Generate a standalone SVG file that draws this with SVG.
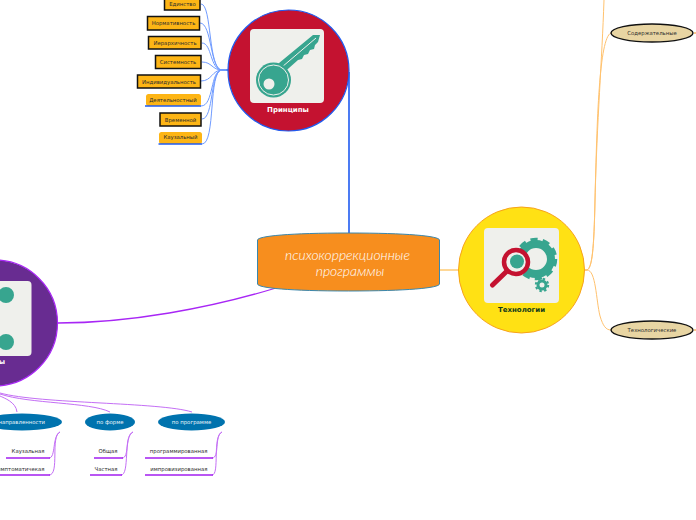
<svg xmlns="http://www.w3.org/2000/svg" width="696" height="520" viewBox="0 0 696 520">
<style>
text{font-family:"DejaVu Sans",sans-serif;font-size:5.35px;fill:#2e2e2e;text-anchor:middle}
.end{text-anchor:end}
.head{font-size:7px;font-weight:bold}
.title{font-family:"Lato",sans-serif;font-size:13.9px;font-style:italic;font-weight:300;fill:#fff}
.b{fill:none;stroke:#6f9bff;stroke-width:1}
.o{fill:none;stroke:#ffc26e;stroke-width:1}
.p{fill:none;stroke:#c46ff5;stroke-width:1}
.pu{fill:none;stroke:#a21ff0;stroke-width:1.3}
.ub{fill:none;stroke:#1f5bf0;stroke-width:1.4}
.box{fill:#fdb515;stroke:#111;stroke-width:1.5}
.soft{fill:#fdb515}
.el{fill:#0073ae}
.lt{fill:#e8f4fa}
.sand{fill:#e8d5a3;stroke:#111;stroke-width:1.4}
.card{fill:#eff0ec}
.teal{fill:#37a58f}
</style>
<rect width="696" height="520" fill="#fff"/>
<g id="connectors">
<path d="M349 72V234" fill="none" stroke="#1f5bf0" stroke-width="1.6"/>
<path d="M58 323C130 323 210 308 276 288" fill="none" stroke="#a826f5" stroke-width="1.3"/>
<path d="M440 270H459" fill="none" stroke="#fdb02e" stroke-width="1"/>
<path d="M222 70H228" fill="none" stroke="#1f5bf0" stroke-width="1.4"/>
<path class="b" d="M226 70H222C208 70 212 4 201 4"/>
<path class="b" d="M226 70H222C210 70 212 23 200 23"/>
<path class="b" d="M226 70H222C210 70 212 43 202 43"/>
<path class="b" d="M226 70H222C212 70 212 62 202 62"/>
<path class="b" d="M226 70H222C212 70 212 81 201 81"/>
<path class="b" d="M226 70H222C210 70 214 106 201 106"/>
<path class="b" d="M226 70H222C210 70 214 119 202 119"/>
<path class="b" d="M226 70H222C208 70 216 144 202 144"/>
<path class="o" d="M585 270H587C592 268 594 250 595 200C597 120 602 60 604 0"/>
<path class="o" d="M585 270H587C592 268 594 250 595 200C597 120 599 38 611 33"/>
<path class="o" d="M585 270H587C596 270 596 300 600 316C603 326 606 330 611 330"/>
<path class="p" d="M0 396C4 398 16 402 17 412"/>
<path class="p" d="M0 394C30 404 90 402 110 412"/>
<path class="p" d="M0 393C40 404 160 402 192 412"/>
<path class="p" d="M60 432C52 436 56 458 49 458"/>
<path class="p" d="M60 432C50 436 60 475 49 475"/>
<path class="p" d="M133 432C124 436 130 458 122 458"/>
<path class="p" d="M133 432C123 436 130 475 121 475"/>
<path class="p" d="M222 432C214 436 220 458 212 458"/>
<path class="p" d="M222 432C212 436 220 475 212 475"/>
<path class="pu" d="M6 458H50M0 475H50M94 458H123M90 475H122M145 458H213M145 475H213"/>
<path d="M694 33H696M694 330H696" stroke="#f7941d" stroke-width="1"/>
</g>
<g id="principles-items">
<g id="n-edinstvo"><rect class="box" x="164.500" y="-5" width="35.500" height="15"/><text x="182.500" y="6">Единство</text></g>
<g id="n-norm"><rect class="box" x="147.500" y="16.500" width="52" height="13.500"/><text x="173.500" y="25">Нормативность</text></g>
<g id="n-ier"><rect class="box" x="148.500" y="36.500" width="52.500" height="12.500"/><text x="175" y="45">Иерархичность</text></g>
<g id="n-sist"><rect class="box" x="155.500" y="55.500" width="45.500" height="13"/><text x="178" y="64">Системность</text></g>
<g id="n-ind"><rect class="box" x="137.500" y="75" width="63" height="13"/><text x="169" y="84">Индивидуальность</text></g>
<g id="n-deya"><rect class="soft" x="146" y="94" width="55" height="12" rx="2.500"/><path class="ub" d="M145 106H201"/><text x="173" y="102">Деятельностный</text></g>
<g id="n-vrem"><rect class="box" x="160" y="113" width="41" height="13"/><text x="180.500" y="121.500">Временной</text></g>
<g id="n-kauz"><rect class="soft" x="159" y="132" width="43" height="12" rx="2.500"/><path class="ub" d="M158.500 144H202"/><text x="180.500" y="139">Каузальный</text></g>
</g>
<g id="principles">
<circle cx="288.500" cy="70.500" r="60.500" fill="#c41230" stroke="#1f5bf0" stroke-width="1.200"/>
<rect class="card" x="250" y="29" width="74" height="74" rx="4"/>
<path class="teal" d="M273 68L313 35H320L318 42L315 45L314 49L310 50L308 54L304 55L302 59L298 60L280 76Z"/>
<path d="M282 67L316 38" stroke="#eff0ec" stroke-width="1" fill="none"/>
<circle class="teal" cx="273.500" cy="80" r="17.500"/>
<circle cx="273.500" cy="80" r="15" fill="none" stroke="#eff0ec" stroke-width="1"/>
<circle cx="269" cy="84" r="5.500" fill="#eff0ec"/>
<text class="head" x="288" y="112" style="fill:#fff">Принципы</text>
</g>
<g id="central">
<path d="M257.500 240C258 236 290 233 348.500 233C407 233 439 236 439.500 240V284C439 288 407 291 348.500 291C290 291 258 288 257.500 284Z" fill="#f78e1e" stroke="#3a87ad" stroke-width="1"/>
<text class="title" x="347.500" y="259.500">психокоррекционные</text>
<text class="title" x="350" y="276">программы</text>
</g>
<g id="technologies">
<circle cx="521.500" cy="270" r="63" fill="#ffe114" stroke="#f7a21b" stroke-width="1"/>
<rect class="card" x="484" y="228" width="75" height="75" rx="4"/>
<circle cx="536" cy="259" r="15" fill="none" stroke="#37a58f" stroke-width="8"/>
<circle cx="536" cy="259" r="19" fill="none" stroke="#37a58f" stroke-width="4.500" stroke-dasharray="7 4.940"/>
<circle cx="535" cy="260" r="8" fill="none" stroke="#eff0ec" stroke-width="1.500"/>
<circle cx="542" cy="285" r="4" fill="none" stroke="#37a58f" stroke-width="3"/>
<circle cx="542" cy="285" r="6.200" fill="none" stroke="#37a58f" stroke-width="2" stroke-dasharray="2.400 2.470"/>
<circle cx="516" cy="262" r="12" fill="#eff0ec" stroke="#c41230" stroke-width="4.500"/>
<circle class="teal" cx="517" cy="261.500" r="7"/>
<path d="M507 271L492.500 285" stroke="#c41230" stroke-width="5" stroke-linecap="round"/>
<text class="head" x="521.500" y="312" style="fill:#143b1c">Технологии</text>
</g>
<g id="n-soderzh"><ellipse class="sand" cx="652" cy="33" rx="41" ry="9"/><text x="652" y="35">Содержательные</text></g>
<g id="n-tehnol"><ellipse class="sand" cx="652" cy="330" rx="41" ry="9"/><text x="652" y="332">Технологические</text></g>
<g id="types">
<circle cx="-5.500" cy="323" r="63" fill="#682c91" stroke="#a826f5" stroke-width="1.200"/>
<rect class="card" x="-40" y="281" width="71.500" height="75" rx="4"/>
<circle class="teal" cx="6" cy="295" r="8"/>
<circle class="teal" cx="6" cy="342" r="8"/>
<text class="head end" x="5" y="364" style="fill:#fff">Типы</text>
</g>
<g id="n-napr"><ellipse class="el" cx="22" cy="422" rx="40" ry="8.500"/><text class="lt end" x="45" y="424">по направленности</text></g>
<g id="n-forma"><ellipse class="el" cx="110" cy="422" rx="25" ry="8.500"/><text class="lt" x="110" y="424">по форме</text></g>
<g id="n-prog"><ellipse class="el" cx="191.500" cy="422" rx="33.500" ry="8.500"/><text class="lt" x="191.500" y="424">по программе</text></g>
<g id="leaves">
<text class="end" x="44.500" y="453">Каузальная</text>
<text class="end" x="44.500" y="471">Симптоматичекая</text>
<text class="end" x="117.500" y="453">Общая</text>
<text class="end" x="117.500" y="471">Частная</text>
<text class="end" x="207.500" y="453">программированная</text>
<text class="end" x="207.500" y="471">импровизированная</text>
</g>
</svg>
